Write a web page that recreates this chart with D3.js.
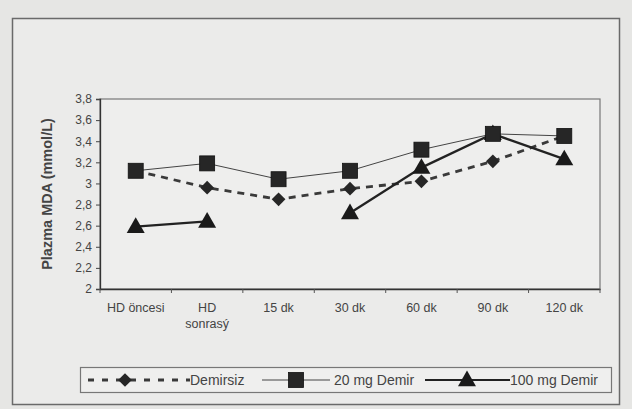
<!DOCTYPE html>
<html>
<head>
<meta charset="utf-8">
<script src="https://cdn.jsdelivr.net/npm/d3@7"></script>
<style>
body { margin: 0; background: #e6e6e4; }
svg { display: block; font-family: "Liberation Sans", Arial, sans-serif; }
</style>
</head>
<body>
<div id="chart"></div>
<script>
// categories and series
var categories = ["HD öncesi", "HD\nsonrasý", "15 dk", "30 dk", "60 dk", "90 dk", "120 dk"];
var demirsiz = [3.12, 2.96, 2.85, 2.95, 3.02, 3.21, 3.45];
var demir20 = [3.12, 3.19, 3.04, 3.12, 3.32, 3.47, 3.45];
var demir100 = [2.59, 2.64, null, 2.72, 3.15, 3.47, 3.23];
var yTicks = [2, 2.2, 2.4, 2.6, 2.8, 3, 3.2, 3.4, 3.6, 3.8];
var seriesNames = ["Demirsiz", "20 mg Demir", "100 mg Demir"];

var W = 632, H = 409;
var plot = {left: 100, top: 99, right: 600, bottom: 289};

var svg = d3.select("#chart").append("svg")
    .attr("width", W)
    .attr("height", H);

svg.append("rect").attr("width", W).attr("height", H).attr("fill", "#e6e6e4");

// outer frame
svg.append("rect")
    .attr("x", 12.5).attr("y", 18.5)
    .attr("width", 607).attr("height", 386)
    .attr("fill", "#ebebea")
    .attr("stroke", "#6a6a6a").attr("stroke-width", 1.5);

// plot area
svg.append("rect")
    .attr("x", plot.left).attr("y", plot.top)
    .attr("width", plot.right - plot.left).attr("height", plot.bottom - plot.top)
    .attr("fill", "#eeeeed")
    .attr("stroke", "#777").attr("stroke-width", 1.2);

var x = d3.scaleBand().domain(categories).range([plot.left, plot.right]);
var y = d3.scaleLinear().domain([2, 3.8]).range([plot.bottom, plot.top]);

var cx = function(i){ return x(categories[i]) + x.bandwidth() / 2; };

// y axis
var yAxis = svg.append("g")
    .attr("transform", "translate(" + plot.left + ",0)")
    .call(d3.axisLeft(y).tickValues(yTicks).tickSize(4).tickPadding(4)
        .tickFormat(function(d){ return String(d).replace(".", ","); }));
yAxis.select(".domain").attr("stroke", "#333").attr("stroke-width", 1.3);
yAxis.selectAll("line").attr("stroke", "#444");
yAxis.selectAll("text").attr("fill", "#444").attr("font-size", 12);

// x axis
var xAxis = svg.append("g")
    .attr("transform", "translate(0," + plot.bottom + ")")
    .call(d3.axisBottom(x).tickSize(0).tickFormat(""));
xAxis.select(".domain").attr("stroke", "#333").attr("stroke-width", 1.3);
xAxis.selectAll(".bound").data(d3.range(categories.length + 1)).enter()
    .append("line")
    .attr("x1", function(i){ return plot.left + i * x.step(); })
    .attr("x2", function(i){ return plot.left + i * x.step(); })
    .attr("y1", 0).attr("y2", 4)
    .attr("stroke", "#555");

var xl = svg.append("g").selectAll("text").data(categories).enter()
    .append("text")
    .attr("x", function(d, i){ return cx(i); })
    .attr("y", 312)
    .attr("text-anchor", "middle")
    .attr("font-size", 12.5)
    .attr("fill", "#444");
xl.each(function(d){
    var parts = d.split("\n");
    var t = d3.select(this);
    parts.forEach(function(p, k){
        t.append("tspan").attr("x", t.attr("x")).attr("dy", k === 0 ? 0 : 16).text(p);
    });
});

// y title
svg.append("text")
    .attr("transform", "translate(52," + ((plot.top + plot.bottom) / 2) + ") rotate(-90)")
    .attr("text-anchor", "middle")
    .attr("font-size", 14.5)
    .attr("font-weight", "bold")
    .attr("fill", "#444")
    .text("Plazma MDA (mmol/L)");

var line = d3.line()
    .defined(function(d){ return d != null; })
    .x(function(d, i){ return cx(i); })
    .y(function(d){ return y(d); });

var ink = "#262626";

function marker(g, type, px, py) {
    if (type === "diamond") {
        g.append("path").attr("d", d3.symbol(d3.symbolDiamond2, 120)())
            .attr("transform", "translate(" + px + "," + py + ")").attr("fill", ink);
    } else if (type === "square") {
        g.append("rect").attr("x", px - 7.5).attr("y", py - 7.5)
            .attr("width", 15).attr("height", 15)
            .attr("fill", ink).attr("stroke", "#111").attr("stroke-width", 0.8);
    } else {
        g.append("path").attr("d", d3.symbol(d3.symbolTriangle, 140)())
            .attr("transform", "translate(" + px + "," + (py + 1) + ")").attr("fill", "#1a1a1a");
    }
}

var series = [
    {name: seriesNames[0], values: demirsiz, type: "diamond", width: 2.8, dash: "7,6", color: "#3a3a3a"},
    {name: seriesNames[2], values: demir100, type: "triangle", width: 2.3, dash: null, color: "#222"},
    {name: seriesNames[1], values: demir20, type: "square", width: 1, dash: null, color: "#444"}
];

series.forEach(function(s){
    var g = svg.append("g");
    g.append("path")
        .attr("d", line(s.values))
        .attr("fill", "none")
        .attr("stroke", s.color)
        .attr("stroke-width", s.width)
        .attr("stroke-dasharray", s.dash);
    s.values.forEach(function(v, i){
        if (v != null) marker(g, s.type, cx(i), y(v));
    });
});

// legend
var lg = svg.append("g");
lg.append("rect")
    .attr("x", 80.5).attr("y", 367.5)
    .attr("width", 531).attr("height", 25)
    .attr("fill", "#efefee")
    .attr("stroke", "#777").attr("stroke-width", 1.2);

var legendItems = [
    {type: "diamond", x1: 88, x2: 190, mx: 125, tx: 190, width: 2.8, dash: "6,8", color: "#3a3a3a", name: seriesNames[0]},
    {type: "square", x1: 262, x2: 330, mx: 296, tx: 334, width: 1, dash: null, color: "#444", name: seriesNames[1]},
    {type: "triangle", x1: 425, x2: 510, mx: 467, tx: 510, width: 2.2, dash: null, color: "#222", name: seriesNames[2]}
];
legendItems.forEach(function(it){
    lg.append("line")
        .attr("x1", it.x1).attr("x2", it.x2).attr("y1", 380).attr("y2", 380)
        .attr("stroke", it.color).attr("stroke-width", it.width)
        .attr("stroke-dasharray", it.dash);
    marker(lg, it.type, it.mx, 380);
    lg.append("text")
        .attr("x", it.tx).attr("y", 385)
        .attr("font-size", 14)
        .attr("fill", "#444")
        .text(it.name);
});
</script>
</body>
</html>
